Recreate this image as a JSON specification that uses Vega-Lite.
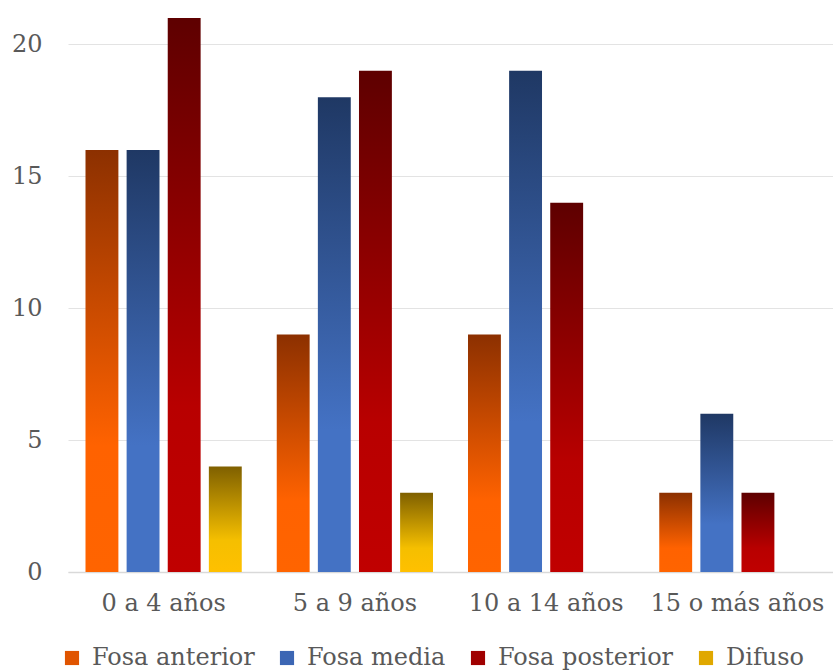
{
  "$schema": "https://vega.github.io/schema/vega-lite/v6.json",
  "width": 765,
  "height": 554,
  "autosize": {"type": "none"},
  "padding": {"left": 68, "top": 18, "right": 0, "bottom": 99},
  "background": "white",
  "data": {
    "values": [
      {"grupo": "0 a 4 años", "ubicacion": "Fosa anterior", "casos": 16},
      {"grupo": "0 a 4 años", "ubicacion": "Fosa media", "casos": 16},
      {"grupo": "0 a 4 años", "ubicacion": "Fosa posterior", "casos": 21},
      {"grupo": "0 a 4 años", "ubicacion": "Difuso", "casos": 4},
      {"grupo": "5 a 9 años", "ubicacion": "Fosa anterior", "casos": 9},
      {"grupo": "5 a 9 años", "ubicacion": "Fosa media", "casos": 18},
      {"grupo": "5 a 9 años", "ubicacion": "Fosa posterior", "casos": 19},
      {"grupo": "5 a 9 años", "ubicacion": "Difuso", "casos": 3},
      {"grupo": "10 a 14 años", "ubicacion": "Fosa anterior", "casos": 9},
      {"grupo": "10 a 14 años", "ubicacion": "Fosa media", "casos": 19},
      {"grupo": "10 a 14 años", "ubicacion": "Fosa posterior", "casos": 14},
      {"grupo": "15 o más años", "ubicacion": "Fosa anterior", "casos": 3},
      {"grupo": "15 o más años", "ubicacion": "Fosa media", "casos": 6},
      {"grupo": "15 o más años", "ubicacion": "Fosa posterior", "casos": 3}
    ]
  },
  "encoding": {
    "x": {
      "field": "grupo",
      "type": "nominal",
      "sort": ["0 a 4 años", "5 a 9 años", "10 a 14 años", "15 o más años"],
      "scale": {"paddingInner": 0.183, "paddingOuter": 0.0915},
      "axis": {
        "title": null,
        "labelAngle": 0,
        "labelFont": "DejaVu Serif",
        "labelFontSize": 24,
        "labelColor": "#595959",
        "labelPadding": 19,
        "labelLimit": 300,
        "ticks": false,
        "domainColor": "#d9d9d9",
        "domainWidth": 1.5
      }
    },
    "xOffset": {
      "field": "ubicacion",
      "type": "nominal",
      "scale": {"domain": ["Fosa anterior", "Fosa media", "Fosa posterior", "Difuso"], "paddingInner": 0.2, "paddingOuter": 0}
    },
    "y": {
      "field": "casos",
      "type": "quantitative",
      "scale": {"domain": [0, 21], "nice": false},
      "axis": {
        "title": null,
        "values": [0, 5, 10, 15, 20],
        "labelFont": "DejaVu Serif",
        "labelFontSize": 24,
        "labelColor": "#595959",
        "labelPadding": 26,
        "ticks": false,
        "domain": false,
        "gridColor": "#e3e3e3",
        "gridWidth": 1.2
      }
    }
  },
  "layer": [
    {
      "mark": {"type": "bar", "opacity": 0},
      "encoding": {
        "color": {
          "field": "ubicacion",
          "type": "nominal",
          "scale": {
            "domain": ["Fosa anterior", "Fosa media", "Fosa posterior", "Difuso"],
            "range": ["#e05400", "#3c66b4", "#a00000", "#e0a800"]
          },
          "legend": {
            "title": null,
            "orient": "none",
            "direction": "horizontal",
            "legendX": -8,
            "legendY": 628,
            "symbolType": "square",
            "symbolSize": 200,
            "symbolStrokeWidth": 0,
            "symbolOpacity": 1,
            "labelFont": "DejaVu Serif",
            "labelFontSize": 24,
            "labelColor": "#595959",
            "labelOffset": 8,
            "labelLimit": 400,
            "columnPadding": 20,
            "encode": {
              "symbols": {
                "update": {
                  "opacity": {"value": 1},
                  "fill": {"signal": "datum.value === 'Fosa anterior' ? {gradient: 'linear', x1: 0, y1: 0, x2: 1, y2: 1, stops: [{offset: 0, color: '#a03800'}, {offset: 1, color: '#ff6400'}]} : datum.value === 'Fosa media' ? {gradient: 'linear', x1: 0, y1: 0, x2: 1, y2: 1, stops: [{offset: 0, color: '#2a4a86'}, {offset: 1, color: '#4a7ad0'}]} : datum.value === 'Fosa posterior' ? {gradient: 'linear', x1: 0, y1: 0, x2: 1, y2: 1, stops: [{offset: 0, color: '#700000'}, {offset: 1, color: '#c80000'}]} : {gradient: 'linear', x1: 0, y1: 0, x2: 1, y2: 1, stops: [{offset: 0, color: '#8f6c00'}, {offset: 1, color: '#ffc400'}]}"}
                }
              }
            }
          }
        }
      }
    },
    {
      "transform": [{"filter": "datum.ubicacion === 'Fosa anterior'"}],
      "mark": {"type": "bar", "color": {"gradient": "linear", "x1": 0, "y1": 0, "x2": 0, "y2": 1, "stops": [{"offset": 0, "color": "#8c3000"}, {"offset": 0.7, "color": "#ff6200"}, {"offset": 1, "color": "#ff6400"}]}}
    },
    {
      "transform": [{"filter": "datum.ubicacion === 'Fosa media'"}],
      "mark": {"type": "bar", "color": {"gradient": "linear", "x1": 0, "y1": 0, "x2": 0, "y2": 1, "stops": [{"offset": 0, "color": "#1f3864"}, {"offset": 0.7, "color": "#4472c4"}, {"offset": 1, "color": "#4472c4"}]}}
    },
    {
      "transform": [{"filter": "datum.ubicacion === 'Fosa posterior'"}],
      "mark": {"type": "bar", "color": {"gradient": "linear", "x1": 0, "y1": 0, "x2": 0, "y2": 1, "stops": [{"offset": 0, "color": "#5e0000"}, {"offset": 0.7, "color": "#b80000"}, {"offset": 1, "color": "#c00000"}]}}
    },
    {
      "transform": [{"filter": "datum.ubicacion === 'Difuso'"}],
      "mark": {"type": "bar", "color": {"gradient": "linear", "x1": 0, "y1": 0, "x2": 0, "y2": 1, "stops": [{"offset": 0, "color": "#7f6000"}, {"offset": 0.7, "color": "#f5bf00"}, {"offset": 1, "color": "#ffc000"}]}}
    }
  ],
  "config": {"view": {"stroke": null}}
}
